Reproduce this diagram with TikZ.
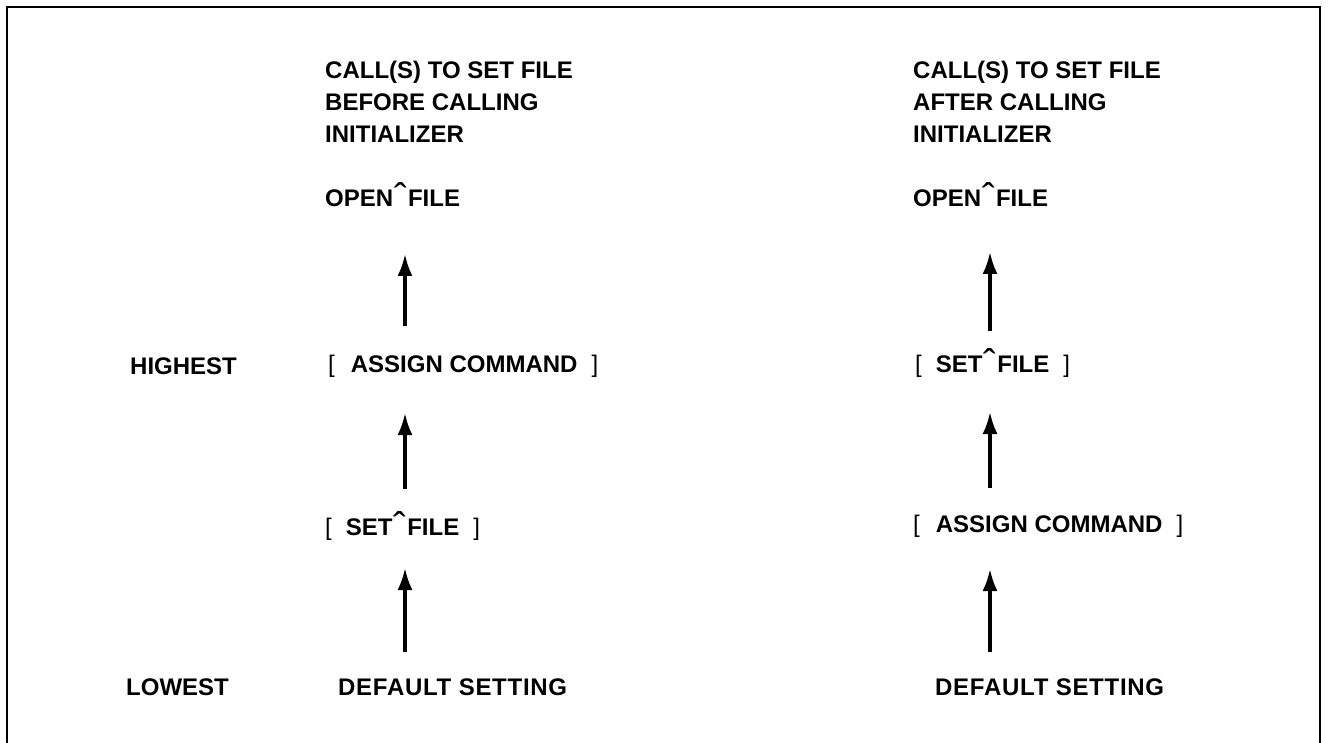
\documentclass[tikz,border=0pt]{standalone}
\usepackage{fontspec}
\setmainfont{Liberation Sans}
\usetikzlibrary{arrows.meta}
\newcommand{\hatmark}{\kern1pt\raisebox{-4pt}{\scalebox{1.6}{\mdseries ˆ}}\kern1pt}
\newcommand{\lb}{{\mdseries [}}
\newcommand{\rb}{{\mdseries ]}}
\begin{document}
\begin{tikzpicture}[x=1pt,y=-1pt,
  lbl/.style={anchor=base west, inner sep=0pt, font=\fontsize{24}{32}\selectfont\bfseries, align=left},
  wide/.style={font=\fontsize{24}{32}\selectfont\bfseries\addfontfeature{LetterSpace=3}},
  arr/.style={line width=3.2pt, -{Latex[length=22pt,width=15pt]}},
  frame/.style={line width=2.2pt}]
\useasboundingbox (0,0) rectangle (1330,743);
\draw[frame] (7,760) -- (7,7) -- (1320,7) -- (1320,760);

% left column
\node[lbl] (tl) at (325,143) {CALL(S) TO SET FILE\\BEFORE CALLING\\INITIALIZER};
\node[lbl] (ol) at (325,207) {OPEN\hatmark FILE};
\node[lbl] (al) at (328,372) {\lb\hspace{16pt}ASSIGN COMMAND\hspace{14pt}\rb};
\node[lbl] (sl) at (325,535) {\lb\hspace{14pt}SET\hatmark FILE\hspace{14pt}\rb};
\node[lbl,wide] (dl) at (338,695) {DEFAULT SETTING};
\node[lbl] (hi) at (130,374) {HIGHEST};
\node[lbl] (lo) at (126,695) {LOWEST};

% right column
\node[lbl] (tr) at (913,143) {CALL(S) TO SET FILE\\AFTER CALLING\\INITIALIZER};
\node[lbl] (or) at (913,207) {OPEN\hatmark FILE};
\node[lbl] (sr) at (915,372) {\lb\hspace{14pt}SET\hatmark FILE\hspace{14pt}\rb};
\node[lbl] (ar) at (913,532) {\lb\hspace{16pt}ASSIGN COMMAND\hspace{14pt}\rb};
\node[lbl,wide] (dr) at (935,695) {DEFAULT SETTING};

% arrow end points
\coordinate (l1s) at (405,326); \coordinate (l1e) at (405,254);
\coordinate (l2s) at (405,489); \coordinate (l2e) at (405,413);
\coordinate (l3s) at (405,652); \coordinate (l3e) at (405,568);
\coordinate (r1s) at (990,331); \coordinate (r1e) at (990,252);
\coordinate (r2s) at (990,488); \coordinate (r2e) at (990,412);
\coordinate (r3s) at (990,652); \coordinate (r3e) at (990,569);

\draw[arr] (l1s) -- (l1e);
\draw[arr] (l2s) -- (l2e);
\draw[arr] (l3s) -- (l3e);
\draw[arr] (r1s) -- (r1e);
\draw[arr] (r2s) -- (r2e);
\draw[arr] (r3s) -- (r3e);
\end{tikzpicture}
\end{document}
